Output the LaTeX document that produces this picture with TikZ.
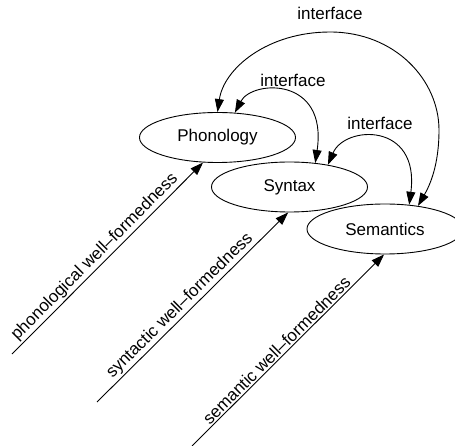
\documentclass[tikz,border=0pt]{standalone}
\usepackage{fontspec}
\setmainfont{Liberation Sans}
\usetikzlibrary{arrows.meta,shapes.geometric}
\begin{document}
\begin{tikzpicture}[x=1pt,y=-1pt,
    every node/.style={font=\fontsize{17}{20}\selectfont},
    level/.style={draw, ellipse, line width=0.9pt, minimum width=156pt, minimum height=50pt, inner sep=0pt},
    link/.style={line width=0.9pt, -{Triangle[length=13pt,width=9pt]}},
    iface/.style={line width=0.9pt, {Triangle[length=13pt,width=9pt]}-{Triangle[length=13pt,width=9pt]}},
    lbl/.style={sloped, above, pos=0.47, inner sep=1.5pt}]
  \useasboundingbox (0,0) rectangle (455,446);
  \clip (0,0) rectangle (455,446);

  % the three levels
  \node[level] (phon) at (217.5,137.5) {Phonology};
  \node[level] (syn)  at (289.5,187)   {Syntax};
  \node[level] (sem)  at (385,229)     {Semantics};

  % well-formedness inputs
  \coordinate (pin) at (12,354);
  \coordinate (sin) at (97,402);
  \coordinate (ein) at (192,446);
  \draw[link] (pin) -- node[lbl] {phonological well--formedness} (phon.240);
  \draw[link] (sin) -- node[lbl] {syntactic well--formedness} (syn.267);
  \draw[link] (ein) -- node[lbl] {semantic well--formedness} (sem.268);

  % interfaces
  \coordinate (top) at (330,32);
  \coordinate (rim) at (439,130);
  \draw[iface] (phon.north) .. controls (224,68) and (268,32) .. (top)
     .. controls (395,32) and (439,80) .. (rim)
     .. controls (439,165) and (430,185) .. (sem.35);
  \node at (330,13) {interface};

  \draw[iface] (phon.55) .. controls (252,80) and (328,76) .. (syn.43);
  \node at (293,80) {interface};

  \draw[iface] (syn.30) .. controls (345,125) and (420,122) .. (sem.45);
  \node at (380,123) {interface};
\end{tikzpicture}
\end{document}
